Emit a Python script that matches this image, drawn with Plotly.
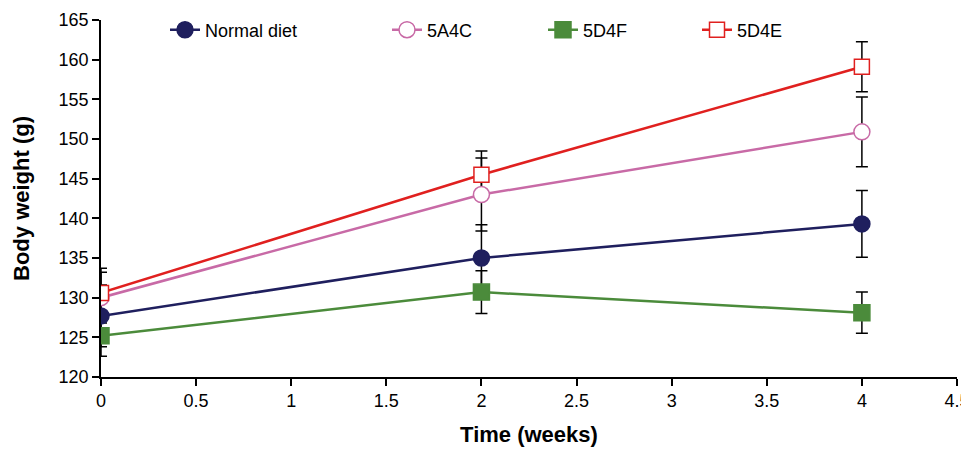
import plotly.graph_objects as go

weeks = [0, 2, 4]
series_names = ["Normal diet", "5A4C", "5D4F", "5D4E"]
normal_diet = [127.7, 135.0, 139.3]
normal_diet_err = [3.9, 4.2, 4.2]
s5a4c = [130.0, 143.0, 150.9]
s5a4c_err = [3.2, 4.6, 4.4]
s5d4f = [125.2, 130.7, 128.1]
s5d4f_err = [2.6, 2.7, 2.6]
s5d4e = [130.6, 145.5, 159.1]
s5d4e_err = [3.1, 3.0, 3.15]

x_ticks = [0, 0.5, 1, 1.5, 2, 2.5, 3, 3.5, 4, 4.5]
x_tick_labels = ["0", "0.5", "1", "1.5", "2", "2.5", "3", "3.5", "4", "4.5"]
y_ticks = [120, 125, 130, 135, 140, 145, 150, 155, 160, 165]

values = [normal_diet, s5a4c, s5d4f, s5d4e]
errors = [normal_diet_err, s5a4c_err, s5d4f_err, s5d4e_err]
colors = ["#1F1F5E", "#C86AA6", "#4B8B3B", "#E0201F"]
symbols = ["circle", "circle-open", "square", "square-open"]
fills = ["#1F1F5E", "white", "#4B8B3B", "white"]
sizes = [16, 16, 16, 15]
legend_ids = ["legend", "legend2", "legend3", "legend4"]
legend_x_px = [157, 379, 535, 689]

fig = go.Figure()

# error bars first so they sit beneath markers/lines
for v, e in zip(values, errors):
    fig.add_trace(go.Scatter(
        x=weeks, y=v, mode="markers",
        marker=dict(size=1, color="rgba(0,0,0,0)"),
        error_y=dict(type="data", array=e, visible=True, color="black",
                     thickness=1.5, width=6),
        showlegend=False, hoverinfo="skip"))

for name, v, c, sym, f, sz, lg in zip(series_names, values, colors, symbols, fills, sizes, legend_ids):
    fig.add_trace(go.Scatter(
        x=weeks, y=v, mode="lines+markers", name=name,
        line=dict(color=c, width=2.5),
        marker=dict(symbol=sym.replace("-open", ""), size=sz, color=f,
                    line=dict(color=c, width=1.5)),
        legend=lg))

# page body has an ~8px margin; plot area placed to match the reference
W, H = 985, 439
plot_l, plot_r, plot_t, plot_b = 93, 36, 12, 70
pw = W - plot_l - plot_r
ph = H - plot_t - plot_b

legend_font = dict(family="Liberation Sans, Arial, sans-serif", size=18, color="black")
layout_legends = {}
for lg, px in zip(legend_ids, legend_x_px):
    layout_legends[lg] = dict(
        x=(px - plot_l) / pw, xref="paper",
        y=1 - 22 / H, yref="container",
        xanchor="left", yanchor="middle", orientation="h",
        bgcolor="rgba(0,0,0,0)", borderwidth=0, font=legend_font)

fig.update_layout(
    width=W, height=H,
    margin=dict(l=plot_l, r=plot_r, t=plot_t, b=plot_b, autoexpand=False),
    paper_bgcolor="white", plot_bgcolor="white",
    font=dict(family="Liberation Sans, Arial, sans-serif", size=18, color="black"),
    showlegend=True,
    **layout_legends,
)

fig.update_xaxes(
    range=[0, 4.5], tickvals=x_ticks, ticktext=x_tick_labels,
    showline=True, linecolor="black", linewidth=1.5,
    ticks="outside", ticklen=7, tickwidth=1.5, tickcolor="black",
    showgrid=False, zeroline=False, automargin=False,
    ticklabeloverflow="allow",
    tickfont=dict(size=18),
    title=dict(text="<b>Time (weeks)</b>", font=dict(size=22), standoff=24),
)
fig.update_yaxes(
    range=[120, 165], tickvals=y_ticks,
    showline=True, linecolor="black", linewidth=1.5,
    ticks="outside", ticklen=7, tickwidth=1.5, tickcolor="black",
    showgrid=False, zeroline=False, automargin=False,
    ticklabeloverflow="allow",
    tickfont=dict(size=18),
    title=dict(text="<b>Body weight (g)</b>", font=dict(size=22), standoff=23),
)

fig.write_html("out.html")
